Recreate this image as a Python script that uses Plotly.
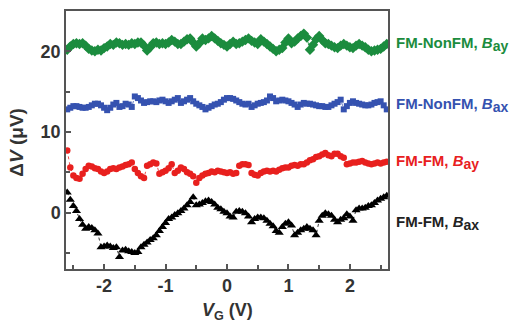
import plotly.graph_objects as go

vg = [round(-2.6 + 0.05 * i, 2) for i in range(105)]

green_bay = [20.2, 20.6, 20.9, 21.0, 20.9, 21.0, 20.7, 20.3, 20.1, 20.0,
             20.2, 20.1, 20.4, 20.6, 20.9, 20.8, 21.1, 21.0, 20.8, 20.9,
             20.8, 21.0, 20.9, 21.1, 21.1, 20.7, 20.1, 20.5, 21.0, 21.1,
             20.9, 21.0, 20.9, 21.1, 21.4, 21.2, 20.9, 20.9, 21.2, 21.5,
             21.6, 21.1, 20.6, 21.0, 21.6, 21.4, 21.6, 21.9, 21.6, 21.3,
             21.0, 20.8, 20.6, 20.9, 21.2, 20.9, 21.0, 21.2, 21.4, 21.6,
             21.3, 21.1, 20.9, 21.5, 21.2, 20.9, 20.6, 20.3, 20.0, 20.2,
             20.4, 21.1, 21.6, 21.0, 21.2, 21.6, 21.9, 22.2, 21.7, 20.2,
             20.8, 21.5, 21.9, 21.4, 21.0, 20.9, 20.7, 20.5, 20.4, 20.7,
             20.9, 20.7, 20.5, 20.4, 20.7, 20.9, 20.7, 20.5, 20.2, 20.0,
             20.1, 20.2, 20.3, 20.6, 20.9]

blue_bax = [12.8, 13.0, 13.2, 13.2, 13.1, 13.0, 13.0, 13.1, 13.3, 13.5,
            13.5, 13.3, 13.0, 12.7, 13.0, 13.4, 13.6, 13.1, 13.2, 13.5,
            13.4, 13.1, 14.4, 14.2, 13.9, 13.6, 13.7, 13.8, 13.8, 13.7,
            13.9, 14.0, 13.8, 13.6, 13.8, 14.0, 14.2, 13.6, 13.8, 14.0,
            14.2, 13.8, 13.5, 13.3, 13.1, 12.8, 13.0, 13.2, 13.4, 13.5,
            13.7, 14.0, 14.2, 14.2, 14.1, 13.9, 13.7, 13.5, 13.4, 13.5,
            13.1, 13.3, 13.5, 13.6, 13.7, 13.9, 14.4, 14.2, 13.8, 13.9,
            14.0, 13.9, 13.8, 13.6, 13.4, 13.1, 13.4, 13.6, 13.5, 13.5,
            13.4, 13.3, 13.2, 13.2, 13.1, 13.1, 13.3, 13.5, 13.7, 14.0,
            12.8, 13.2, 13.6, 13.8, 13.6, 13.5, 13.4, 13.3, 13.3, 13.4,
            13.6, 13.7, 13.8, 13.3, 12.8]

red_bay = [7.7, 5.6, 4.6, 4.3, 4.2, 4.8, 5.4, 5.8, 5.7, 5.5,
           5.4, 5.1, 4.9, 5.1, 5.4, 5.5, 5.4, 5.6, 5.7, 5.9,
           6.0, 6.2, 5.4, 4.9, 4.5, 4.3, 5.8, 6.0, 6.2, 6.1,
           4.8, 5.0, 5.2, 5.5, 6.0, 4.9, 5.2, 5.6, 5.4, 5.0,
           4.8, 4.5, 3.7, 4.3, 4.6, 4.8, 4.9, 5.1, 5.0, 5.2,
           5.1, 5.0, 4.9, 5.0, 4.8, 4.9, 5.8, 6.0, 6.0, 5.9,
           4.9, 4.7, 4.6, 4.9, 5.1, 5.2, 5.1, 5.2, 5.1, 5.3,
           5.5, 5.6, 5.6, 5.8, 5.9, 5.8, 6.0, 6.0, 6.2, 6.5,
           6.6, 6.9, 7.0, 7.2, 7.4, 7.1, 7.0, 7.3, 7.3, 7.0,
           6.8, 6.0, 6.1, 6.2, 6.2, 6.3, 6.4, 6.2, 6.1, 6.0,
           6.1, 6.2, 6.1, 6.2, 6.3]

black_bax = [2.5, 1.6, 0.8, 0.2, -0.8, -1.5, -2.0, -1.8, -1.9, -2.2,
             -2.6, -4.3, -4.2, -4.1, -4.2, -4.4, -4.3, -5.5, -4.7, -4.6,
             -4.8, -4.9, -5.0, -4.9, -4.3, -4.0, -3.7, -3.4, -3.2, -2.8,
             -2.3, -1.8, -1.3, -0.8, -0.6, -0.3, -0.1, 0.2, 0.5, 0.9,
             1.3, 1.9, 0.9, 1.0, 1.2, 1.4, 1.5, 1.3, 1.0, 0.6,
             0.4, 0.1, -0.1, -0.5, -0.6, 0.1, 0.2, 0.1, -0.1, -0.5,
             -1.2, -0.8, -0.6, -0.6, -0.7, -1.0, -1.4, -1.7, -2.3, -2.5,
             -1.8, -1.4, -1.2, -1.6, -2.8, -2.5, -2.2, -2.0, -1.8, -2.0,
             -2.2, -2.8, -1.0, -0.4, -0.1, -0.2, -0.4, -0.9, -1.2, -0.9,
             -0.7, -0.2, -0.5, -1.0, 0.3, 0.5, 0.5, 0.6, 0.8, 0.9,
             1.2, 1.5, 1.7, 1.9, 2.1]

x_ticks = [-2, -1, 0, 1, 2]
x_tick_labels = ["-2", "-1", "0", "1", "2"]
y_ticks = [0, 10, 20]
y_tick_labels = ["0", "10", "20"]

series = [
    ("FM-NonFM, ", "ay", green_bay, "#1b8c3e", "diamond", 8, 20.9),
    ("FM-NonFM, ", "ax", blue_bax, "#3552b0", "square", 6, 13.4),
    ("FM-FM, ", "ay", red_bay, "#e8201e", "circle", 6.5, 6.3),
    ("FM-FM, ", "ax", black_bax, "#000000", "triangle-up", 8, -1.3),
]

FONT = "Arial, Liberation Sans, sans-serif"
fig = go.Figure()
for prefix, sub, ys, col, sym, sz, ly in series:
    fig.add_trace(go.Scatter(
        x=vg, y=ys, mode="lines+markers", name=prefix + "B" + sub,
        line=dict(color=col, width=0.8, dash="dot"),
        marker=dict(symbol=sym, size=sz, color=col, line=dict(width=0)),
        showlegend=False,
    ))
    fig.add_annotation(
        x=1.02, xref="paper", y=ly, yref="y", xanchor="left", yanchor="middle",
        text="<b>" + prefix + "<i>B</i><sub><span style='font-size:14px'>" + sub + "</span></sub></b>",
        showarrow=False,
        font=dict(family=FONT, size=15, color=col if col != "#000000" else "#222222"),
    )

# axis titles
fig.add_annotation(
    x=0.5, xref="paper", y=-0.165, yref="paper", xanchor="center", yanchor="middle",
    text="<b><i>V</i><sub>G</sub> (V)</b>", showarrow=False,
    font=dict(family=FONT, size=18, color="#333333"),
)
fig.add_annotation(
    x=-0.152, xref="paper", y=0.49, yref="paper", xanchor="center", yanchor="middle",
    text="<b>Δ<i>V</i> (μV)</b>", showarrow=False, textangle=-90,
    font=dict(family=FONT, size=19, color="#333333"),
)

axis_common = dict(
    showline=True, linecolor="#555555", linewidth=1.5, mirror=True,
    ticks="inside", ticklen=5, tickwidth=1.5, tickcolor="#555555",
    showgrid=False, zeroline=False, automargin=False,
    tickfont=dict(family=FONT, size=18, color="#333333", weight="bold"),
)

fig.update_xaxes(
    range=[-2.62, 2.62], tickvals=x_ticks, ticktext=x_tick_labels,
    minor=dict(tickvals=[-2.5, -1.5, -0.5, 0.5, 1.5, 2.5], ticks="inside", ticklen=4, tickcolor="#555555"),
    **axis_common,
)
fig.update_yaxes(
    range=[-7, 25], tickvals=y_ticks, ticktext=y_tick_labels,
    minor=dict(tickvals=[-5, 5, 15], ticks="inside", ticklen=4, tickcolor="#555555"),
    **axis_common,
)

fig.update_layout(
    width=511, height=325,
    margin=dict(l=66, r=123, t=11, b=56),
    paper_bgcolor="white", plot_bgcolor="white",
)

fig.write_html("out.html")
